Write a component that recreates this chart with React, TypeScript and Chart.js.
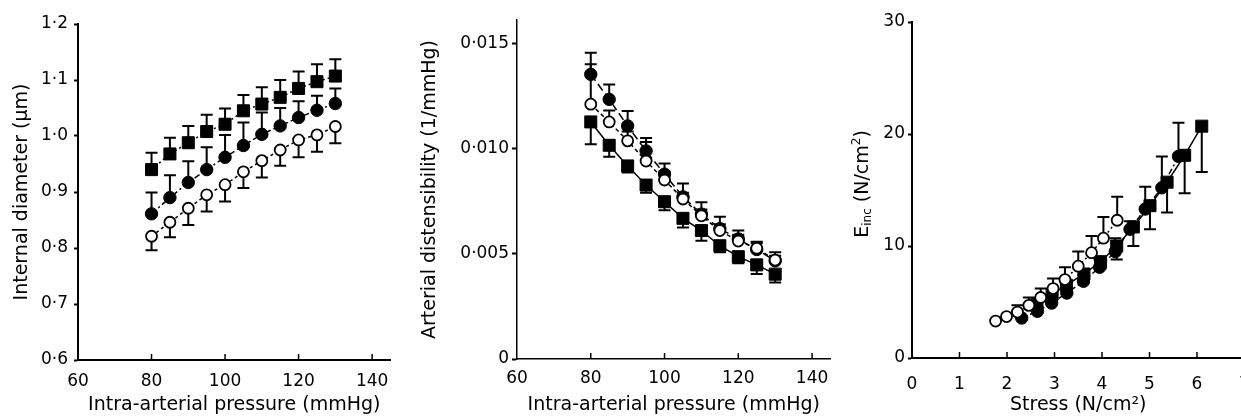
import React, { useEffect, useRef } from 'react';
import { Chart, registerables } from 'chart.js';

Chart.register(...registerables);
Chart.defaults.font.family = "'DejaVu Sans', sans-serif";
Chart.defaults.color = '#000';

// ---------- Data ----------
const pressure = [80, 85, 90, 95, 100, 105, 110, 115, 120, 125, 130];

// Panel 1: internal diameter
const diamSquare = [0.940, 0.968, 0.988, 1.008, 1.021, 1.045, 1.057, 1.069, 1.085, 1.097, 1.107];
const diamSquareErr = [0.970, 0.997, 1.018, 1.038, 1.049, 1.073, 1.087, 1.100, 1.115, 1.128, 1.137];
const diamFilled = [0.861, 0.890, 0.917, 0.940, 0.962, 0.983, 1.003, 1.018, 1.033, 1.046, 1.058];
const diamFilledErr = [0.899, 0.930, 0.955, 0.980, 1.002, 1.024, 1.042, 1.050, 1.062, 1.072, 1.085];
const diamOpen = [0.821, 0.846, 0.871, 0.895, 0.913, 0.936, 0.956, 0.975, 0.993, 1.002, 1.017];
const diamOpenErr = [0.796, 0.819, 0.841, 0.865, 0.883, 0.907, 0.926, 0.947, 0.962, 0.972, 0.987];

// Panel 2: arterial distensibility
const distFilled = [0.01352, 0.01233, 0.01107, 0.00988, 0.00878, 0.0077, 0.00688, 0.00619, 0.0057, 0.0052, 0.00466];
const distFilledErr = [0.01454, 0.01304, 0.01178, 0.0105, 0.00928, 0.00834, 0.00744, 0.00676, 0.0061, 0.00557, 0.00507];
const distOpen = [0.0121, 0.01126, 0.01036, 0.0094, 0.0085, 0.0076, 0.0068, 0.0061, 0.0056, 0.00526, 0.0047];
const distOpenErr = [0.0140, 0.0118, 0.0108, 0.0103, 0.0089, 0.0079, 0.0071, 0.0064, 0.0059, 0.0055, 0.0049];
const distSquare = [0.01126, 0.01015, 0.00917, 0.00826, 0.00747, 0.00668, 0.0061, 0.00538, 0.00486, 0.00447, 0.00403];
const distSquareErr = [0.0102, 0.0096, 0.00886, 0.0079, 0.00707, 0.00624, 0.00562, 0.00507, 0.00455, 0.00404, 0.00363];

// Panel 3: incremental elastic modulus vs stress
const stressOpen = [1.76, 1.99, 2.22, 2.46, 2.71, 2.97, 3.22, 3.50, 3.78, 4.03, 4.32];
const eincOpen = [3.3, 3.7, 4.1, 4.7, 5.4, 6.2, 7.0, 8.2, 9.4, 10.7, 12.3];
const eincOpenErr = [null, null, 4.7, 5.4, 6.2, 7.1, 8.1, 9.5, 10.9, 12.6, 14.4];
const stressFilled = [2.31, 2.64, 2.94, 3.26, 3.61, 3.95, 4.28, 4.59, 4.91, 5.26, 5.61];
const eincFilled = [3.57, 4.17, 4.9, 5.8, 6.85, 8.1, 9.5, 11.5, 13.3, 15.2, 18.0];
const eincFilledErr = [null, 4.6, 5.4, 6.3, 7.4, 8.8, 10.7, 12.2, 15.3, 18.0, 21.0];
const stressSquare = [2.63, 2.95, 3.25, 3.62, 3.97, 4.31, 4.66, 5.01, 5.37, 5.74, 6.10];
const eincSquare = [4.8, 5.7, 6.5, 7.5, 8.6, 10.0, 11.7, 13.6, 15.7, 18.1, 20.7];
const eincSquareErr = [4.4, 5.2, 6.0, 7.0, 8.0, 8.8, 10.0, 11.5, 13.0, 14.7, 16.6];

// ---------- Helpers ----------
const pts = (xs: number[], ys: number[]) => xs.map((x, i) => ({ x, y: ys[i] }));

const errorBarPlugin = {
  id: 'errorBars',
  beforeDatasetsDraw(chart: any) {
    const { ctx, scales } = chart;
    const x = scales.x, y = scales.y;
    ctx.save();
    ctx.strokeStyle = '#000';
    ctx.lineWidth = 2;
    chart.data.datasets.forEach((ds: any) => {
      const errs = ds.errTo;
      if (!errs) return;
      ds.data.forEach((p: any, j: number) => {
        const e = errs[j];
        if (e == null) return;
        const px = x.getPixelForValue(p.x);
        const py = y.getPixelForValue(p.y);
        const ey = y.getPixelForValue(e);
        ctx.beginPath();
        ctx.moveTo(px, py);
        ctx.lineTo(px, ey);
        ctx.moveTo(px - 6, ey);
        ctx.lineTo(px + 6, ey);
        ctx.stroke();
      });
    });
    ctx.restore();
  },
};

const innerTicksPlugin = {
  id: 'innerTicks',
  afterDraw(chart: any) {
    const { ctx, chartArea } = chart;
    const x = chart.scales.x;
    ctx.save();
    ctx.strokeStyle = '#000';
    ctx.lineWidth = 1.5;
    x.ticks.forEach((t: any) => {
      const px = x.getPixelForValue(t.value);
      if (Math.abs(px - chartArea.left) < 2) return;
      ctx.beginPath();
      ctx.moveTo(px, chartArea.bottom);
      ctx.lineTo(px, chartArea.bottom - 6);
      ctx.stroke();
    });
    ctx.restore();
  },
};

const eincTitlePlugin = {
  id: 'eincTitle',
  afterDraw(chart: any) {
    const ctx = chart.ctx;
    const big = "19px 'DejaVu Sans', sans-serif";
    const small = "12px 'DejaVu Sans', sans-serif";
    const parts = [
      { t: 'E', f: big, dy: 0 },
      { t: 'inc', f: small, dy: 5 },
      { t: ' (N/cm', f: big, dy: 0 },
      { t: '2', f: small, dy: -6 },
      { t: ')', f: big, dy: 0 },
    ];
    ctx.save();
    ctx.translate(33, 184);
    ctx.rotate(-Math.PI / 2);
    let total = 0;
    parts.forEach((p) => { ctx.font = p.f; total += ctx.measureText(p.t).width; });
    let cx = -total / 2;
    ctx.fillStyle = '#000';
    ctx.textBaseline = 'middle';
    ctx.textAlign = 'left';
    parts.forEach((p) => {
      ctx.font = p.f;
      ctx.fillText(p.t, cx, p.dy);
      cx += ctx.measureText(p.t).width;
    });
    ctx.restore();
  },
};

function yAxis(o: any) {
  return {
    type: 'linear',
    min: o.min,
    max: o.max,
    ticks: { stepSize: o.step, includeBounds: false, callback: o.fmt, padding: o.pad, font: { size: 17 }, color: '#000' },
    grid: { drawOnChartArea: false, drawTicks: true, tickLength: o.tickLen, tickWidth: 2, tickColor: '#000' },
    border: { display: true, color: '#000', width: o.bw },
    title: o.title
      ? { display: true, text: o.title, color: '#000', font: { size: 19, lineHeight: 1 }, padding: { top: o.titlePad, bottom: 0 } }
      : { display: false },
    afterFit: (s: any) => { s.width = o.width; },
  };
}

function xAxis(o: any) {
  return {
    type: 'linear',
    min: o.min,
    max: o.max,
    ticks: { stepSize: o.step, includeBounds: false, padding: o.pad, font: { size: 17 }, color: '#000', maxRotation: 0, autoSkip: false },
    grid: { display: false },
    border: { display: true, color: '#000', width: o.bw },
    title: { display: true, text: o.title, color: '#000', font: { size: 19, lineHeight: 1 }, padding: { top: 0, bottom: 1 } },
    afterFit: (s: any) => { s.height = o.height; },
  };
}

function series(data: any[], kind: 'square' | 'filled' | 'open', dash: number[], errTo: any[], lineWidth = 1.5) {
  const isSquare = kind === 'square';
  return {
    data,
    errTo,
    showLine: true,
    borderColor: '#000',
    borderWidth: lineWidth,
    borderDash: dash,
    pointStyle: isSquare ? 'rect' : 'circle',
    pointRadius: isSquare ? 8.5 : kind === 'open' ? 5.5 : 6.2,
    pointBackgroundColor: kind === 'open' ? '#fff' : '#000',
    pointBorderColor: '#000',
    pointBorderWidth: kind === 'open' ? 1.8 : 1,
    pointHoverRadius: isSquare ? 8.5 : 6,
  };
}

const dotFmt1 = (v: any) => Number(v).toFixed(1).replace('.', '\u00B7');
const dotFmt3 = (v: any) => (Math.abs(v) < 1e-9 ? '0' : Number(v).toFixed(3).replace('.', '\u00B7'));

const baseOptions = (padding: any, scales: any) => ({
  responsive: false,
  animation: false,
  devicePixelRatio: 1,
  layout: { padding },
  plugins: { legend: { display: false }, tooltip: { enabled: false } },
  scales,
});

const config1 = () => ({
  type: 'scatter',
  data: {
    datasets: [
      series(pts(pressure, diamOpen), 'open', [3, 3], diamOpenErr),
      series(pts(pressure, diamFilled), 'filled', [6, 3, 2, 3], diamFilledErr),
      series(pts(pressure, diamSquare), 'square', [2, 3], diamSquareErr),
    ],
  },
  options: baseOptions({ left: 0, top: 24, right: 9, bottom: 0 }, {
    x: xAxis({ min: 60, max: 145, step: 20, pad: 3, bw: 2, title: 'Intra-arterial pressure (mmHg)', height: 56 }),
    y: yAxis({ min: 0.6, max: 1.2, step: 0.1, fmt: dotFmt1, pad: 6, tickLen: 4, bw: 2, width: 78, title: 'Internal diameter (\u00B5m)', titlePad: 12.5 }),
  }),
  plugins: [errorBarPlugin, innerTicksPlugin],
});

const config2 = () => ({
  type: 'scatter',
  data: {
    datasets: [
      series(pts(pressure, distOpen), 'open', [4, 3], distOpenErr),
      series(pts(pressure, distFilled), 'filled', [8, 4], distFilledErr),
      series(pts(pressure, distSquare), 'square', [], distSquareErr),
    ],
  },
  options: baseOptions({ left: 0, top: 20, right: 7, bottom: 0 }, {
    x: xAxis({ min: 60, max: 145, step: 20, pad: 1, bw: 1.5, title: 'Intra-arterial pressure (mmHg)', height: 57 }),
    y: yAxis({ min: 0, max: 0.0161, step: 0.005, fmt: dotFmt3, pad: 3, tickLen: 5, bw: 1.5, width: 107, title: 'Arterial distensibility (1/mmHg)', titlePad: 10.5 }),
  }),
  plugins: [errorBarPlugin, innerTicksPlugin],
});

const config3 = () => ({
  type: 'scatter',
  data: {
    datasets: [
      series(pts(stressOpen, eincOpen), 'open', [2, 3], eincOpenErr),
      series(pts(stressFilled, eincFilled), 'filled', [6, 3, 2, 3], eincFilledErr),
      series(pts(stressSquare, eincSquare), 'square', [], eincSquareErr),
    ],
  },
  options: baseOptions({ left: 0, top: 22, right: 15.5, bottom: 0 }, {
    x: xAxis({ min: 0, max: 7, step: 1, pad: 8, bw: 2, title: 'Stress (N/cm\u00B2)', height: 58 }),
    y: yAxis({ min: 0, max: 30, step: 10, fmt: (v: any) => String(v), pad: 3, tickLen: 4, bw: 2, width: 82, title: '', titlePad: 0 }),
  }),
  plugins: [errorBarPlugin, innerTicksPlugin, eincTitlePlugin],
});

function Panel({ left, width, makeConfig }: { left: number; width: number; makeConfig: () => any }) {
  const ref = useRef<HTMLCanvasElement>(null);
  useEffect(() => {
    const chart = new Chart(ref.current as HTMLCanvasElement, makeConfig());
    return () => chart.destroy();
  }, []);
  return (
    <canvas
      ref={ref}
      width={width}
      height={416}
      style={{ position: 'absolute', left, top: 0, width, height: 416 }}
    />
  );
}

export default function App() {
  return (
    <div style={{ position: 'absolute', left: 0, top: 0, width: 1241, height: 416, overflow: 'hidden', background: '#fff' }}>
      <Panel left={0} width={400} makeConfig={config1} />
      <Panel left={410} width={430} makeConfig={config2} />
      <Panel left={830} width={430} makeConfig={config3} />
    </div>
  );
}
